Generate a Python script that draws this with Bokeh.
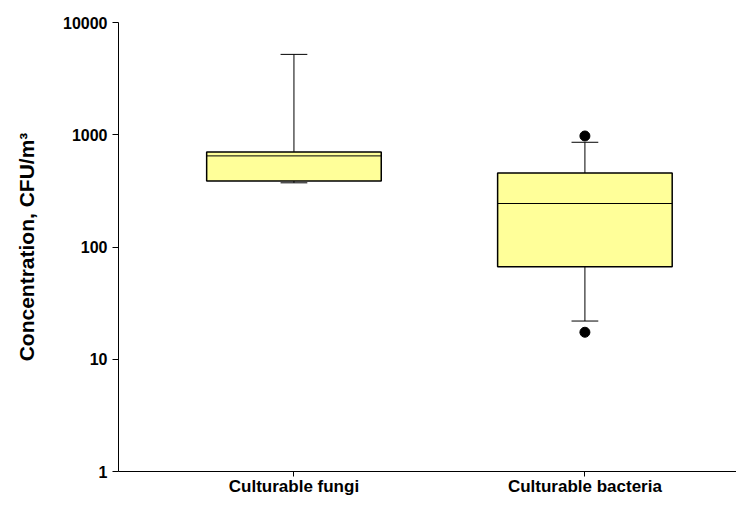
from bokeh.plotting import figure
from bokeh.models import Range1d, FixedTicker, NumeralTickFormatter
from bokeh.embed import file_html
from bokeh.resources import INLINE

# ---- data ----
categories = ["Culturable fungi", "Culturable bacteria"]
positions = [1, 2]
lower_whisker = [373, 21.9]
q1 = [388, 66.7]
median = [648, 244]
q3 = [703, 457]
upper_whisker = [5200, 857]
outlier_x = [2, 2]
outlier_y = [975, 17.4]
y_ticks = [1, 10, 100, 1000, 10000]
y_tick_labels = ["1", "10", "100", "1000", "10000"]

BOX_W = 0.60
CAP_HW = 0.046
FONT = "Liberation Sans"

p = figure(width=736, height=498, y_axis_type="log",
           x_range=Range1d(0.397, 2.521), y_range=Range1d(1, 10000),
           output_backend="svg", toolbar_location=None,
           min_border_left=118, min_border_right=0,
           min_border_top=22, min_border_bottom=26)

p.xgrid.visible = False
p.ygrid.visible = False
p.outline_line_color = None
p.background_fill_color = "white"
p.border_fill_color = "white"

# whiskers
p.segment(x0=positions, y0=q3, x1=positions, y1=upper_whisker, line_color="black", line_width=1)
p.segment(x0=positions, y0=q1, x1=positions, y1=lower_whisker, line_color="black", line_width=1)
# caps
p.segment(x0=[x - CAP_HW for x in positions], y0=upper_whisker,
          x1=[x + CAP_HW for x in positions], y1=upper_whisker, line_color="black", line_width=1)
p.segment(x0=[x - CAP_HW for x in positions], y0=lower_whisker,
          x1=[x + CAP_HW for x in positions], y1=lower_whisker, line_color="black", line_width=1)
# boxes
p.vbar(x=positions, width=BOX_W, bottom=q1, top=q3, fill_color="#FFFF99",
       line_color="black", line_width=1.5)
# medians
p.segment(x0=[x - BOX_W / 2 for x in positions], y0=median,
          x1=[x + BOX_W / 2 for x in positions], y1=median, line_color="black", line_width=1)
# outliers
p.scatter(x=outlier_x, y=outlier_y, size=10, fill_color="black", line_color="black")

# x axis
xa = p.xaxis[0]
xa.ticker = FixedTicker(ticks=positions, minor_ticks=[])
xa.major_label_overrides = dict(zip(positions, categories))
xa.major_tick_in = 0
xa.major_tick_out = 5
xa.minor_tick_line_color = None
xa.major_label_standoff = 0
xa.major_label_text_font = FONT
xa.major_label_text_font_style = "bold"
xa.major_label_text_font_size = "17px"
xa.major_label_text_color = "black"
xa.axis_line_color = "black"
xa.major_tick_line_color = "black"

# y axis
ya = p.yaxis[0]
ya.ticker = FixedTicker(ticks=y_ticks, minor_ticks=[])
ya.major_label_overrides = dict(zip(y_ticks, y_tick_labels))
ya.formatter = NumeralTickFormatter(format="0")
ya.major_tick_in = 0
ya.major_tick_out = 6
ya.minor_tick_line_color = None
ya.major_label_standoff = 5
ya.major_label_text_font = FONT
ya.major_label_text_font_style = "bold"
ya.major_label_text_font_size = "16px"
ya.major_label_text_color = "black"
ya.axis_line_color = "black"
ya.major_tick_line_color = "black"
ya.axis_label = "Concentration, CFU/m³"
ya.axis_label_text_font = FONT
ya.axis_label_text_font_style = "bold"
ya.axis_label_text_font_size = "21px"
ya.axis_label_text_color = "black"
ya.axis_label_standoff = 22

open("out.html", "w").write(file_html(p, INLINE))
